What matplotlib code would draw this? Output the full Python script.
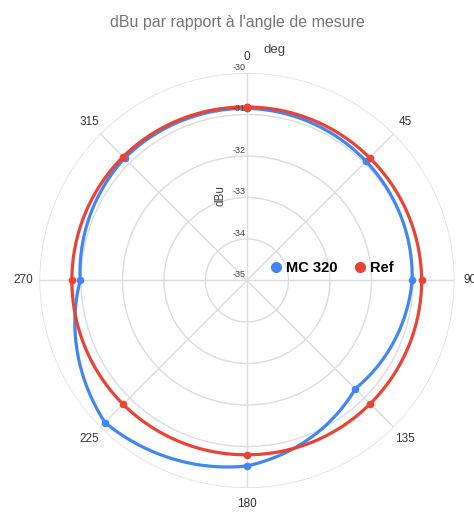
import numpy as np
import matplotlib.pyplot as plt
from matplotlib.lines import Line2D

plt.rcParams['font.family'] = ['Liberation Sans', 'DejaVu Sans']

angles = [0, 45, 90, 135, 180, 225, 270, 315]
mc320 = [-30.85, -30.94, -31.02, -31.31, -30.53, -30.16, -30.98, -30.83]
ref = [-30.82, -30.82, -30.79, -30.80, -30.80, -30.78, -30.78, -30.78]
r_ticks = [-35, -34, -33, -32, -31, -30]

blue = '#4285F4'
red = '#EA4335'

fig = plt.figure(figsize=(4.74, 5.12), dpi=100)
ax = fig.add_axes([0.0833, 0.0469, 0.8755, 0.8105], projection='polar')
ax.set_theta_zero_location('N')
ax.set_theta_direction(-1)
ax.set_ylim(-35, -30)

# close the loop at 360 so the last segment goes forward
th = np.deg2rad(angles + [360])
for vals, col in [(mc320, blue), (ref, red)]:
    ln, = ax.plot(th, vals + [vals[0]], color=col, lw=2.3, marker='o', ms=4.5)
    # let polar transform draw segments as curves
    ln.get_path()._interpolation_steps = 60

ax.set_thetagrids(angles, [str(a) for a in angles], fontsize=8.5, color='#333333')
ax.tick_params(axis='x', pad=1)
ax.set_rgrids(r_ticks, labels=[''] * len(r_ticks))
ax.grid(color='#dddddd', lw=1)
ax.spines['polar'].set_visible(False)

# radial labels along the 0 deg spoke
for v in r_ticks:
    ax.annotate(str(v), (0, v), xytext=(-1, 1), textcoords='offset points',
                ha='right', va='bottom', fontsize=6.5, color='#444444')

fig.text(0.5, 1 - 22 / 512, "dBu par rapport à l'angle de mesure",
         ha='center', va='center', fontsize=11.5, color='#757575')
fig.text(275 / 474, 1 - 50 / 512, 'deg', ha='center', va='center',
         fontsize=9.5, color='#444444')
fig.text(220 / 474, 1 - 195 / 512, 'dBu', ha='center', va='center',
         rotation=90, fontsize=8.5, color='#444444')

handles = [Line2D([], [], color=blue, marker='o', ls='none', ms=7),
           Line2D([], [], color=red, marker='o', ls='none', ms=7)]
fig.legend(handles, ['MC 320', 'Ref'], loc='center', ncol=2, frameon=False,
           bbox_to_anchor=(331 / 474, 1 - 268 / 512),
           prop={'weight': 'bold', 'size': 10.5},
           handletextpad=0.2, columnspacing=1.0, handlelength=1.0)

fig.savefig('out.png', dpi=100)
